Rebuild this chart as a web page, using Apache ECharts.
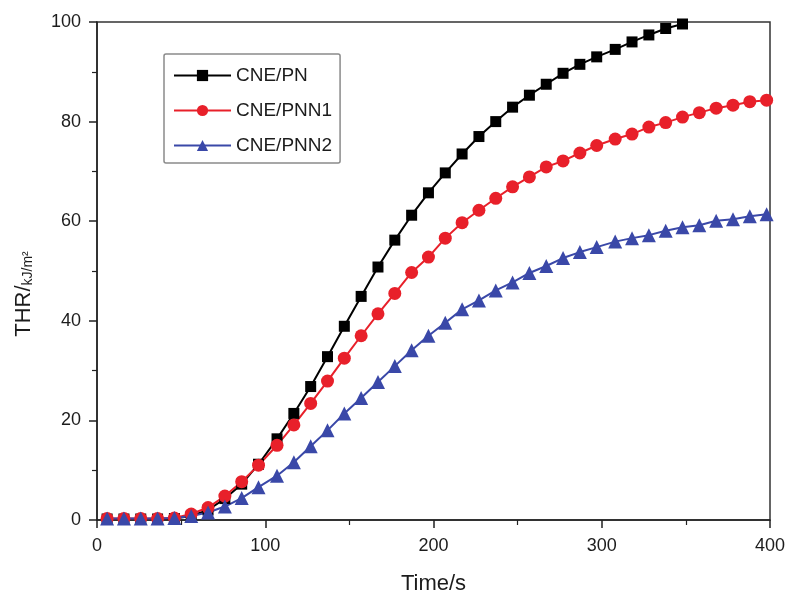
<!DOCTYPE html>
<html>
<head>
<meta charset="utf-8">
<script src="https://cdn.jsdelivr.net/npm/echarts@6/dist/echarts.min.js"></script>
<style>
  html, body { margin: 0; padding: 0; background: #fff; }
  #chart { width: 792px; height: 595px; }
</style>
</head>
<body>
<div id="chart"></div>
<script>
// Sampling times (s)
const times = [6, 16, 26, 36, 46, 56, 66, 76, 86, 96,
  107, 117, 127, 137, 147, 157, 167, 177, 187, 197,
  207, 217, 227, 237, 247, 257, 267, 277, 287, 297,
  308, 318, 328, 338, 348, 358, 368, 378, 388, 398];

// Total heat release (kJ/m²)
const thrPN = [0.2, 0.2, 0.2, 0.2, 0.3, 0.8, 2.0, 4.3, 7.2, 11.2,
  16.3, 21.4, 26.8, 32.8, 38.9, 44.9, 50.8, 56.2, 61.2, 65.7,
  69.7, 73.5, 77.0, 80.0, 82.9, 85.3, 87.5, 89.7, 91.5, 93.0,
  94.5, 96.0, 97.4, 98.7, 99.6];
const thrPNN1 = [0.3, 0.3, 0.3, 0.3, 0.4, 1.2, 2.5, 4.8, 7.7, 11.0,
  15.0, 19.1, 23.4, 27.9, 32.5, 37.0, 41.4, 45.5, 49.7, 52.8,
  56.6, 59.7, 62.2, 64.6, 66.9, 68.9, 70.9, 72.1, 73.7, 75.2,
  76.5, 77.5, 78.9, 79.8, 80.9, 81.8, 82.7, 83.3, 84.0, 84.3];
const thrPNN2 = [0.3, 0.3, 0.3, 0.3, 0.4, 0.8, 1.5, 2.7, 4.4, 6.6,
  8.9, 11.6, 14.8, 18.0, 21.4, 24.5, 27.7, 30.9, 34.1, 37.0,
  39.6, 42.3, 44.1, 46.1, 47.7, 49.6, 51.0, 52.6, 53.8, 54.8,
  55.9, 56.6, 57.2, 58.1, 58.8, 59.2, 60.1, 60.4, 61.0, 61.4];

const seriesNames = ['CNE/PN', 'CNE/PNN1', 'CNE/PNN2'];
const xTicks = [0, 100, 200, 300, 400];
const yTicks = [0, 20, 40, 60, 80, 100];

const pair = (vals) => vals.map((v, i) => [times[i], v]);

const axisColor = '#222';
const textColor = '#1c1c1c';
const font = 'Liberation Sans, Arial, sans-serif';

const chart = echarts.init(document.getElementById('chart'), null, { renderer: 'canvas' });

function lineSeries(name, data, color, symbol, size) {
  return {
    name: name,
    type: 'line',
    data: pair(data),
    symbol: symbol,
    symbolSize: size,
    showSymbol: true,
    lineStyle: { color: color, width: 2 },
    itemStyle: { color: color },
    emphasis: { disabled: true },
    animation: false
  };
}

chart.setOption({
  backgroundColor: '#fff',
  grid: {
    left: 97, right: 22, top: 22, bottom: 75,
    containLabel: false,
    outerBoundsMode: 'none',
    show: true, borderColor: '#333', borderWidth: 1.5, backgroundColor: 'transparent'
  },
  legend: {
    orient: 'vertical',
    left: 164, top: 54,
    itemWidth: 57, itemHeight: 14, itemGap: 16,
    padding: [12, 8, 8, 9],
    borderColor: '#8a8a8a', borderWidth: 1.5, borderRadius: 2,
    textStyle: { fontFamily: font, fontSize: 19, color: textColor },
    data: seriesNames
  },
  xAxis: {
    type: 'value',
    min: 0, max: 400, interval: 100,
    name: 'Time/s',
    nameLocation: 'middle',
    nameGap: 53,
    nameTextStyle: { fontFamily: font, fontSize: 22, color: textColor },
    axisLine: { show: true, lineStyle: { color: axisColor, width: 1.5 } },
    axisTick: { show: true, inside: false, length: 8, lineStyle: { color: axisColor, width: 1.5 } },
    minorTick: { show: true, splitNumber: 2, length: 5, lineStyle: { color: axisColor, width: 1.2 } },
    splitLine: { show: false },
    axisLabel: {
      fontFamily: font, fontSize: 18, color: textColor, margin: 17,
      formatter: (v) => (xTicks.includes(v) ? String(v) : '')
    }
  },
  yAxis: {
    type: 'value',
    min: 0, max: 100, interval: 20,
    name: '{a|THR/}{b|kJ/m²}',
    nameLocation: 'middle',
    nameGap: 62,
    nameRotate: 90,
    nameTextStyle: {
      fontFamily: font, color: textColor,
      padding: [0, 46, 0, 0],
      rich: {
        a: { fontFamily: font, fontSize: 22, color: textColor },
        b: { fontFamily: font, fontSize: 14, color: textColor, padding: [9, 0, 0, 0] }
      }
    },
    axisLine: { show: true, lineStyle: { color: axisColor, width: 1.5 } },
    axisTick: { show: true, inside: false, length: 8, lineStyle: { color: axisColor, width: 1.5 } },
    minorTick: { show: true, splitNumber: 2, length: 5, lineStyle: { color: axisColor, width: 1.2 } },
    splitLine: { show: false },
    axisLabel: {
      fontFamily: font, fontSize: 18, color: textColor, margin: 16,
      formatter: (v) => (yTicks.includes(v) ? String(v) : '')
    }
  },
  series: [
    lineSeries(seriesNames[0], thrPN, '#000000', 'rect', 11),
    lineSeries(seriesNames[1], thrPNN1, '#e8202a', 'circle', 13),
    lineSeries(seriesNames[2], thrPNN2, '#3a48a8', 'triangle', 14)
  ]
});
</script>
</body>
</html>
